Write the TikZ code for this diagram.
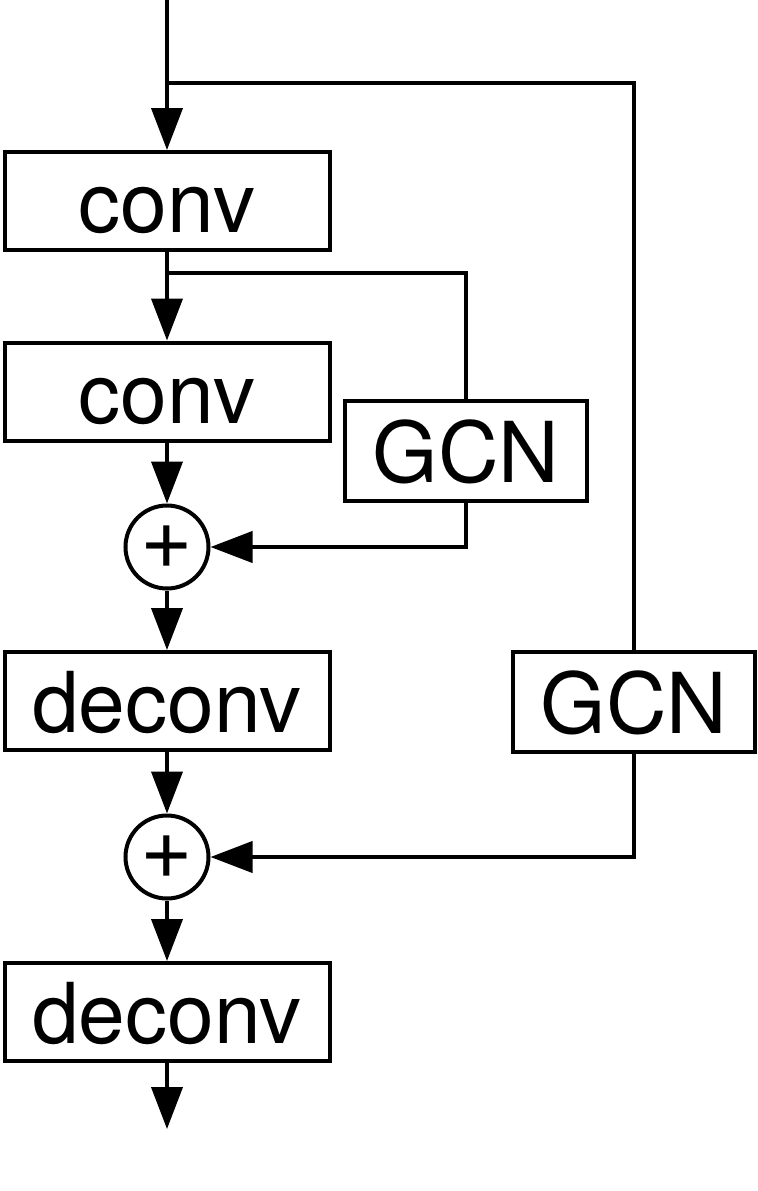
\documentclass[tikz,border=0pt]{standalone}
\usepackage{fontspec}
\setmainfont{TeX Gyre Heros}
\usetikzlibrary{arrows.meta}

\tikzset{
  block/.style={draw, line width=2pt, inner sep=0pt, minimum width=162.5pt, minimum height=49pt,
    text height=31.5pt, text depth=0pt, font=\fontsize{42}{50}\selectfont},
  gcnblock/.style={block, minimum width=121pt, minimum height=50pt},
  sumnode/.style={circle, draw, line width=2pt, inner sep=0pt, minimum size=41.5pt,
    font=\fontsize{45}{50}\selectfont},
  arr/.style={line width=2pt, -{Triangle[length=21pt, width=15.5pt]}},
  wire/.style={line width=2pt}
}

\begin{document}
\begin{tikzpicture}[x=0.5pt, y=-0.5pt]
    \useasboundingbox (0,0) rectangle (758,1191);

    % Main path
    \node[block] (conv1) at (167,201) {conv};
    \node[block] (conv2) at (167,391.5) {conv};
    \node[sumnode] (sum1) at (167,547) {+};
    \node[block] (deconv1) at (167,701) {deconv};
    \node[sumnode] (sum2) at (167,857) {+};
    \node[block] (deconv2) at (167,1012) {deconv};

    % GCN branches
    \node[gcnblock] (gcn1) at (466,450.5) {GCN};
    \node[gcnblock] (gcn2) at (634,702) {GCN};

    % Input, output and split points
    \coordinate (in) at (167,0);
    \coordinate (out) at (167,1129);
    \coordinate (split1) at (167,83);
    \coordinate (split2) at (167,273);

    % Main connectors
    \draw[arr] (in) -- (conv1);
    \draw[arr] (conv1) -- (conv2);
    \draw[arr] (conv2) -- (sum1);
    \draw[arr] (sum1) -- (deconv1);
    \draw[arr] (deconv1) -- (sum2);
    \draw[arr] (sum2) -- (deconv2);
    \draw[arr] (deconv2) -- (out);

    % Skip connections through GCN
    \draw[wire] (split1) -| (gcn2);
    \draw[wire] (split2) -| (gcn1);
    \draw[arr] (gcn1) |- (sum1);
    \draw[arr] (gcn2) |- (sum2);
\end{tikzpicture}
\end{document}
